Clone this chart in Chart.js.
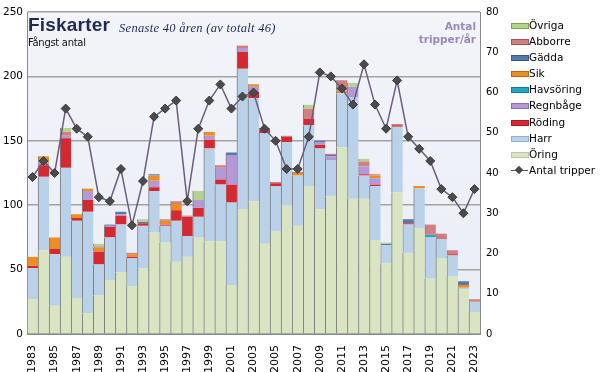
<!DOCTYPE html>
<html>
<head>
<meta charset="utf-8">
<script src="https://cdn.jsdelivr.net/npm/chart.js@4/dist/chart.umd.min.js"></script>
<style>
  html,body{margin:0;padding:0;background:#fff;}
  #wrap{position:relative;width:600px;height:372px;overflow:hidden;font-family:"DejaVu Sans",sans-serif;}
  canvas{position:absolute;left:0;top:0;}
  .t1{position:absolute;left:28px;top:14px;font:bold 19px "Liberation Sans",sans-serif;color:#1c2b55;letter-spacing:0.2px;}
  .t2{position:absolute;left:119px;top:21px;font:italic 12.5px "Liberation Serif",serif;color:#1c2b55;letter-spacing:0.3px;}
  .t3{position:absolute;left:28px;top:37px;font:10px "DejaVu Sans",sans-serif;color:#111;letter-spacing:-0.3px;}
  .t4{position:absolute;right:124px;top:20px;font:bold 10.5px "DejaVu Sans",sans-serif;color:#9a8ab9;text-align:right;line-height:13px;}
  #legend{position:absolute;left:511px;top:18px;}
  .li{position:relative;height:16.1px;font:10.5px "DejaVu Sans",sans-serif;color:#000;white-space:nowrap;}
  .lb{position:absolute;left:0;top:5px;width:16px;height:4px;}
  .lt{position:absolute;left:18px;top:1px;}
  .ll{position:absolute;left:0;top:7px;width:17px;height:1.5px;background:#5b5068;}
  .ld{position:absolute;left:5px;top:4px;width:6px;height:6px;background:#4a4a4a;transform:rotate(45deg);}
</style>
</head>
<body>
<div id="wrap">
  <canvas id="c" width="600" height="372"></canvas>
  <div class="t1">Fiskarter</div>
  <div class="t2">Senaste 40 åren (av totalt 46)</div>
  <div class="t3">Fångst antal</div>
  <div class="t4">Antal<br>tripper/år</div>
  <div id="legend"></div>
</div>
<script>
const years = ["1983","1984","1985","1986","1987","1988","1989","1990","1991","1992","1993","1994","1995","1996","1997","1998","1999","2000","2001","2002","2003","2004","2005","2006","2007","2008","2009","2010","2011","2012","2013","2014","2015","2016","2017","2018","2019","2020","2021","2022","2023"];

const oring     = [27,65,22,60,28,16,30,42,48,37,51,79,71,56,60,75,72,72,38,97,103,70,80,100,84,115,97,107,145,105,105,73,55,110,63,82,43,59,45,35,17];
const harr      = [24,57,40,69,60,79,24,33,37,22,33,32,13,32,16,16,72,44,64,109,80,86,35,49,39,47,47,28,42,79,18,42,14,51,22,31,32,15,16,1,8];
const roding    = [2,9,4,23,2,9,10,8,7,1,2,3,1,8,15,7,7,4,14,13,5,3,2,4,0,5,3,0,0,0,1,1,0,1,1,0,0,1,1,0,0];
const regnbage  = [0,2,0,2,0,7,0,1,1,0,0,5,0,0,0,6,3,9,23,3,4,0,0,0,0,0,2,3,0,8,6,5,0,0,0,0,0,0,0,0,0];
const havsoring = [0,0,0,0,0,0,0,0,0,0,0,0,0,0,0,0,0,0,0,0,0,0,0,0,0,0,0,0,0,0,0,0,0,0,0,0,2,0,0,0,0];
const sik       = [7,5,9,0,3,2,3,0,0,2,0,4,3,5,0,0,3,0,0,0,2,0,0,0,2,0,0,0,2,0,0,2,0,0,0,2,0,0,0,2,0];
const gadda     = [0,0,0,0,0,0,0,1,2,0,1,1,0,0,0,0,0,0,2,0,0,0,0,0,0,0,1,1,0,0,0,0,1,0,3,0,0,0,0,3,0];
const abborre   = [0,0,0,3,0,0,1,0,0,1,0,0,1,2,1,0,0,2,0,2,0,1,1,1,1,8,0,1,8,0,4,1,0,1,0,0,8,3,3,0,2];
const ovriga    = [0,0,0,3,0,0,2,0,0,0,2,0,0,0,0,7,0,0,0,0,0,0,0,0,0,3,0,0,0,3,2,0,1,0,0,0,0,0,0,0,0];
const tripper   = [39,43,40,56,51,49,34,33,41,27,38,54,56,58,33,51,58,62,56,59,60,51,48,41,41,49,65,64,61,57,67,57,51,63,49,46,43,36,34,30,36];

const leftTicks = [0,50,100,150,200,250];
const rightTicks = [0,10,20,30,40,50,60,70,80];

const series = [
  {name:"Öring",     data:oring,     color:"#d8e4c2", edge:"#b9c9a0"},
  {name:"Harr",      data:harr,      color:"#bad1ea", edge:"#8fb0d6"},
  {name:"Röding",    data:roding,    color:"#d8272e", edge:"#a81c20"},
  {name:"Regnbåge",  data:regnbage,  color:"#b598d6", edge:"#8d6db5"},
  {name:"Havsöring", data:havsoring, color:"#22a8c2", edge:"#137c90"},
  {name:"Sik",       data:sik,       color:"#ef8d1f", edge:"#b86410"},
  {name:"Gädda",     data:gadda,     color:"#5578ad", edge:"#3a5a8a"},
  {name:"Abborre",   data:abborre,   color:"#d37f7f", edge:"#a55555"},
  {name:"Övriga",    data:ovriga,    color:"#b3d48c", edge:"#7da251"}
];
const lineName = "Antal tripper";

const bgPlugin = {
  id:'plotbg',
  beforeDraw(chart){
    const {ctx, chartArea:a} = chart;
    const g = ctx.createLinearGradient(0,a.top,0,a.bottom);
    g.addColorStop(0,'#f2f4f9');
    g.addColorStop(1,'#e9edf5');
    ctx.save();
    ctx.fillStyle = g;
    ctx.fillRect(a.left,a.top,a.right-a.left,a.bottom-a.top);
    ctx.restore();
  }
};

const datasets = [{
  type:'line',
  label:lineName,
  data:tripper,
  yAxisID:'y2',
  order:0,
  borderColor:'#6c5d80',
  borderWidth:1.5,
  pointStyle:'rectRot',
  pointRadius:4.5,
  pointBackgroundColor:'#4b4b4b',
  pointBorderColor:'#3a3a3a',
  pointBorderWidth:1,
  tension:0
}].concat(series.map(s=>({
  type:'bar',
  label:s.name,
  data:s.data,
  yAxisID:'y',
  order:1,
  backgroundColor:s.color,
  borderColor:'#7d7d7d',
  borderWidth:{left:1,right:0,top:0,bottom:0},
  borderSkipped:false,
  barPercentage:1,
  categoryPercentage:1
})));

new Chart(document.getElementById('c'), {
  data:{labels:years, datasets},
  plugins:[bgPlugin],
  options:{
    responsive:false,
    animation:false,
    devicePixelRatio:1,
    layout:{padding:{top:9,left:0,right:0,bottom:0}},
    plugins:{legend:{display:false}, tooltip:{enabled:false}},
    scales:{
      x:{
        stacked:true,
        grid:{display:false},
        border:{display:true,color:'#8a8a8a'},
        ticks:{autoSkip:false,minRotation:90,maxRotation:90,padding:3,color:'#000',
               font:{family:'DejaVu Sans',size:11},
               callback:(v,i)=> i%2===0 ? years[i] : ''},
        afterFit:s=>{s.height=38;}
      },
      y:{
        stacked:true,
        position:'left',
        min:0,max:250,
        afterBuildTicks:s=>{s.ticks = leftTicks.map(v=>({value:v}));},
        ticks:{padding:4,color:'#000',font:{family:'DejaVu Sans',size:10.5}},
        grid:{color:'#a3a3a3',lineWidth:1.5,drawTicks:false},
        border:{display:true,color:'#8a8a8a'},
        afterFit:s=>{s.width=27;}
      },
      y2:{
        position:'right',
        min:0,max:80,
        afterBuildTicks:s=>{s.ticks = rightTicks.map(v=>({value:v}));},
        ticks:{padding:6,color:'#000',font:{family:'DejaVu Sans',size:10}},
        grid:{drawOnChartArea:false,drawTicks:false},
        border:{display:true,color:'#8a8a8a'},
        afterFit:s=>{s.width=120;}
      }
    }
  }
});

// HTML legend built from the series list (top = last stacked series)
const lg = document.getElementById('legend');
series.slice().reverse().forEach(s=>{
  const d = document.createElement('div'); d.className='li';
  const b = document.createElement('div'); b.className='lb';
  b.style.background = s.color; b.style.border = '1px solid '+s.edge;
  const t = document.createElement('div'); t.className='lt'; t.textContent = s.name;
  d.appendChild(b); d.appendChild(t); lg.appendChild(d);
});
(function(){
  const d = document.createElement('div'); d.className='li';
  const l = document.createElement('div'); l.className='ll';
  const m = document.createElement('div'); m.className='ld';
  const t = document.createElement('div'); t.className='lt'; t.textContent = lineName;
  d.appendChild(l); d.appendChild(m); d.appendChild(t); lg.appendChild(d);
})();
</script>
</body>
</html>
